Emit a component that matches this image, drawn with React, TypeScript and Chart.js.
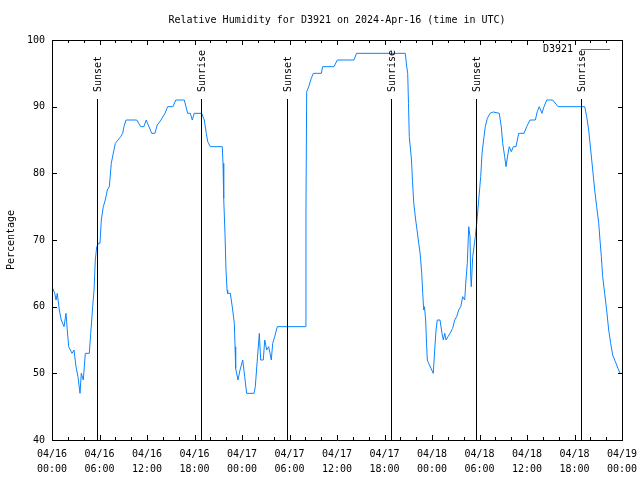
import React, { useEffect, useRef } from "react";
import { Chart, registerables } from "chart.js";

Chart.register(...registerables);

const chartTitle = "Relative Humidity for D3921 on 2024-Apr-16 (time in UTC)";
const seriesName = "D3921";
const yAxisTitle = "Percentage";

// hours since 2024-04-16 00:00 UTC
const hours = [
  0.0, 0.34, 0.51, 0.67, 0.92, 1.17, 1.52, 1.77, 1.93, 2.11, 2.53, 2.78, 3.03, 3.28, 3.54, 3.7, 3.95, 4.21, 4.71, 4.89,
  5.14, 5.31, 5.47, 5.65, 5.9, 6.06, 6.23, 6.48, 6.73, 6.99, 7.24, 7.49, 7.74, 8.0, 8.34, 8.68, 8.93, 9.09, 9.35, 9.51,
  10.7, 11.2, 11.6, 11.9, 12.6, 13.0, 13.3, 13.77, 14.27, 14.61, 15.28, 15.63, 16.71, 17.14, 17.47, 17.72, 17.97, 18.91, 19.24, 19.49,
  19.67, 20.0, 21.51, 21.6, 21.69, 21.85, 21.98, 22.11, 22.19, 22.52, 22.77, 23.03, 23.12, 23.2, 23.49, 23.75, 24.09, 24.34, 24.59, 25.52,
  25.68, 25.93, 26.19, 26.36, 26.69, 26.87, 27.12, 27.37, 27.54, 27.7, 27.88, 28.13, 28.46, 32.0, 32.08, 32.17, 32.43, 32.75, 33.01, 33.51,
  34.02, 34.19, 35.62, 36.04, 38.15, 38.46, 44.63, 44.78, 44.93, 45.03, 45.13, 45.41, 45.54, 45.7, 45.94, 46.11, 46.27, 46.52, 46.7, 46.83,
  46.95, 47.05, 47.2, 47.31, 47.41, 47.58, 48.16, 48.34, 48.51, 48.67, 49.01, 49.26, 49.43, 49.61, 49.77, 50.27, 50.61, 50.87, 51.12, 51.37,
  51.63, 51.88, 52.13, 52.29, 52.46, 52.64, 52.8, 52.89, 52.96, 53.14, 53.31, 53.47, 53.65, 53.9, 54.15, 54.32, 54.57, 54.73, 54.99, 55.33,
  55.74, 56.5, 56.75, 56.93, 57.18, 57.35, 57.6, 57.76, 58.02, 58.27, 58.61, 58.95, 59.62, 59.96, 60.38, 61.05, 61.3, 61.55, 61.89, 62.15,
  62.49, 63.25, 63.92, 67.29, 67.54, 67.79, 68.05, 68.3, 68.55, 68.8, 69.06, 69.22, 69.39, 69.56, 69.81, 70.06, 70.32, 70.57, 70.82, 71.16,
  71.49, 71.75, 72.0,
];

const humidity = [
  63, 62, 61, 62, 59.5, 58, 57, 59, 56.5, 54, 53, 53.5, 51, 49.5, 47, 50, 49, 53, 53, 56,
  60, 62.5, 67, 69, 69.5, 69.5, 73, 75, 76, 77.5, 78, 81.5, 83, 84.5, 85, 85.5, 86, 87, 88, 88,
  88, 87, 87, 88, 86, 86, 87.25, 88, 89, 90, 90, 91, 91, 89, 89, 88, 89, 89, 88, 86,
  84.75, 84, 84, 81.5, 76.25, 71, 65.5, 62.5, 62, 62, 60, 57.5, 54, 50.75, 49, 50.5, 52, 49.5, 47, 47,
  48, 52, 56, 52, 52, 55, 53.5, 54, 53, 52, 54.5, 55.5, 57, 57, 74.5, 92.25, 93, 94.25, 95, 95,
  95, 96, 96, 97, 97, 98, 98, 96.25, 95, 90.5, 85.5, 82, 78.75, 75.5, 73, 71.5, 70, 67.75, 65, 62,
  59.5, 60, 58, 54.5, 52, 51.5, 50, 53.5, 56.5, 58, 58, 56, 55, 56, 55, 56, 56.75, 58, 58.5, 59.5,
  60, 61.5, 61, 64, 66.5, 72, 70.5, 64.5, 63, 67.5, 69, 70.5, 72.5, 76, 79.5, 83, 85.5, 87, 88.25, 89,
  89.2, 89, 87, 84.5, 82.5, 81, 83, 84, 83.25, 84, 84, 86, 86, 87, 88, 88, 89.25, 90, 89, 90,
  91, 91, 90, 90, 88.5, 86.5, 83.5, 80.5, 77.5, 75, 72.5, 70, 67.5, 64.5, 62, 59.5, 56.5, 54.5, 52.75, 51.75,
  50.75, 50, 50,
];

const sunHours = [5.64, 18.78, 29.64, 42.78, 53.5, 66.78];
const sunLabels = ["Sunset", "Sunrise", "Sunset", "Sunrise", "Sunset", "Sunrise"];
const sunMarkerTop = 91.1;

const xTickDates = ["04/16", "04/16", "04/16", "04/16", "04/17", "04/17", "04/17", "04/17", "04/18", "04/18", "04/18", "04/18", "04/19"];
const xTickTimes = ["00:00", "06:00", "12:00", "18:00", "00:00", "06:00", "12:00", "18:00", "00:00", "06:00", "12:00", "18:00", "00:00"];
const yTickValues = [40, 50, 60, 70, 80, 90, 100];

const LINE_COLOR = "#0a84ff";
const FONT_FAMILY = '"DejaVu Sans Mono", "Liberation Mono", monospace';
const FONT = `10px ${FONT_FAMILY}`;

const overlayPlugin = {
  id: "overlay",
  afterDatasetsDraw(chart: any) {
    const { ctx, chartArea, scales } = chart;
    const x = scales.x;
    const y = scales.y;
    ctx.save();
    ctx.strokeStyle = "#000";
    ctx.fillStyle = "#000";
    ctx.lineWidth = 1;
    ctx.font = FONT;
    sunHours.forEach((h, i) => {
      const px = Math.round(x.getPixelForValue(h)) + 0.5;
      const pyTop = Math.round(y.getPixelForValue(sunMarkerTop));
      ctx.beginPath();
      ctx.moveTo(px, pyTop);
      ctx.lineTo(px, chartArea.bottom);
      ctx.stroke();
      ctx.save();
      ctx.translate(px + 1, pyTop - 7);
      ctx.rotate(-Math.PI / 2);
      ctx.textAlign = "left";
      ctx.textBaseline = "middle";
      ctx.fillText(sunLabels[i], 0, 0);
      ctx.restore();
    });
    ctx.restore();
  },
  afterDraw(chart: any) {
    const { ctx, chartArea, scales } = chart;
    const { left, right, top, bottom } = chartArea;
    const x = scales.x;
    const y = scales.y;
    ctx.save();
    ctx.strokeStyle = "#000";
    ctx.lineWidth = 1;
    // border
    ctx.beginPath();
    ctx.rect(left + 0.5, top + 0.5, right - left, bottom - top);
    ctx.stroke();
    // x ticks (major every 6h, minor every 2h), mirrored
    ctx.beginPath();
    for (let h = 0; h <= 72; h += 2) {
      const px = Math.round(x.getPixelForValue(h)) + 0.5;
      const len = h % 6 === 0 ? 5 : 3;
      ctx.moveTo(px, bottom);
      ctx.lineTo(px, bottom - len);
      ctx.moveTo(px, top);
      ctx.lineTo(px, top + len);
    }
    yTickValues.forEach((v) => {
      const py = Math.round(y.getPixelForValue(v)) + 0.5;
      ctx.moveTo(left, py);
      ctx.lineTo(left + 5, py);
      ctx.moveTo(right + 1, py);
      ctx.lineTo(right + 1 - 5, py);
    });
    ctx.stroke();

    // title
    ctx.fillStyle = "#000";
    ctx.font = FONT;
    ctx.textAlign = "center";
    ctx.textBaseline = "middle";
    ctx.fillText(chartTitle, (left + right) / 2, 20);

    // legend
    ctx.textAlign = "right";
    ctx.fillText(seriesName, right - 49, 49);
    ctx.strokeStyle = LINE_COLOR;
    ctx.beginPath();
    ctx.moveTo(right - 41, 49.5);
    ctx.lineTo(right - 12, 49.5);
    ctx.stroke();
    ctx.restore();
  },
};

export default function App() {
  const canvasRef = useRef<HTMLCanvasElement | null>(null);

  useEffect(() => {
    if (!canvasRef.current) return;
    const points = hours.map((h, i) => ({ x: h, y: humidity[i] }));
    const chart = new Chart(canvasRef.current, {
      type: "line",
      data: {
        datasets: [
          {
            label: seriesName,
            data: points,
            borderColor: LINE_COLOR,
            backgroundColor: LINE_COLOR,
            borderWidth: 1,
            pointRadius: 0,
            tension: 0,
            fill: false,
          },
        ],
      },
      options: {
        animation: false,
        responsive: false,
        devicePixelRatio: 1,
        layout: { padding: { top: 40, right: 18, bottom: 0, left: 0 } },
        plugins: {
          legend: { display: false },
          title: { display: false },
          tooltip: { enabled: false },
        },
        scales: {
          x: {
            type: "linear",
            min: 0,
            max: 72,
            grid: { display: false, drawTicks: false },
            border: { display: false },
            ticks: {
              stepSize: 6,
              autoSkip: false,
              maxRotation: 0,
              color: "#000",
              padding: 7,
              font: { family: FONT_FAMILY, size: 10, lineHeight: 1.5 },
              callback: (value: any) => {
                const i = Math.round(Number(value) / 6);
                return [xTickDates[i], xTickTimes[i]];
              },
            },
            afterFit: (scale: any) => {
              scale.height = 40;
              scale.paddingLeft = 0;
              scale.paddingRight = 0;
            },
          },
          y: {
            type: "linear",
            min: 40,
            max: 100,
            grid: { display: false, drawTicks: false },
            border: { display: false },
            ticks: {
              stepSize: 10,
              color: "#000",
              padding: 7,
              font: { family: FONT_FAMILY, size: 10 },
            },
            title: {
              display: true,
              text: yAxisTitle,
              color: "#000",
              font: { family: FONT_FAMILY, size: 10, lineHeight: 1.2 },
              padding: { top: 5, bottom: 0 },
            },
            afterFit: (scale: any) => {
              scale.width = 52;
              scale.paddingTop = 0;
              scale.paddingBottom = 0;
            },
          },
        },
      },
      plugins: [overlayPlugin],
    });
    return () => chart.destroy();
  }, []);

  return (
    <div style={{ position: "fixed", left: 0, top: 0, width: 640, height: 480, background: "#fff" }}>
      <canvas ref={canvasRef} width={640} height={480} style={{ display: "block" }} />
    </div>
  );
}
